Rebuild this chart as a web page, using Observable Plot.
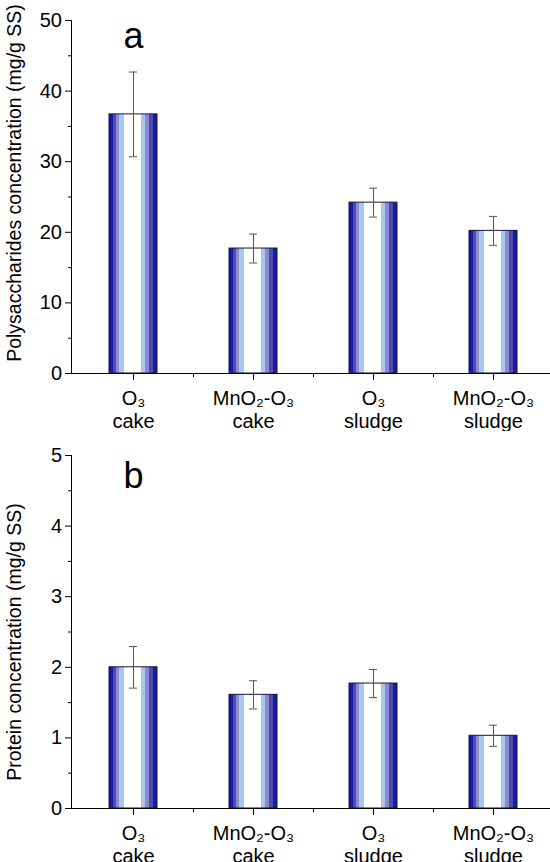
<!DOCTYPE html>
<html><head><meta charset="utf-8">
<script src="https://cdn.jsdelivr.net/npm/d3@7"></script>
<script src="https://cdn.jsdelivr.net/npm/@observablehq/plot@0.6"></script>
<style>
body{margin:0;background:#fff;}
#chart svg{display:block;}
</style></head><body><div id="chart"></div>
<script>
const categories = ["O₃\ncake", "MnO₂-O₃\ncake", "O₃\nsludge", "MnO₂-O₃\nsludge"];
const polyValues = [36.7, 17.7, 24.2, 20.2];
const polyErrors = [6.0, 2.05, 2.05, 2.05];
const proteinValues = [2.00, 1.61, 1.77, 1.03];
const proteinErrors = [0.295, 0.20, 0.20, 0.15];
const polyTicks = [0, 10, 20, 30, 40, 50];
const polyMinorTicks = [5, 15, 25, 35, 45];
const proteinTicks = [0, 1, 2, 3, 4, 5];
const proteinMinorTicks = [0.5, 1.5, 2.5, 3.5, 4.5];
const polyLabel = "Polysaccharides concentration (mg/g SS)";
const proteinLabel = "Protein concentration (mg/g SS)";

const FONT = "'Liberation Sans', Arial, Helvetica, sans-serif";
const bandStops = [
  [0.00, "#1a1aa8"], [0.08, "#1a1aa8"],
  [0.08, "#4b4bb0"], [0.15, "#4b4bb0"],
  [0.15, "#8a8ccc"], [0.21, "#8a8ccc"],
  [0.21, "#a6c8ee"], [0.31, "#a6c8ee"],
  [0.31, "#fffffa"], [0.66, "#fffffa"],
  [0.66, "#a6c8ee"], [0.76, "#a6c8ee"],
  [0.76, "#8a8ccc"], [0.83, "#8a8ccc"],
  [0.83, "#4b4bb0"], [0.91, "#4b4bb0"],
  [0.91, "#1a1aa8"], [1.00, "#1a1aa8"]
];

function panel({values, errors, ticks, minor, label, labelDy, letter, letterY, marginTop, marginBottom, id}) {
  const data = categories.map((c, i) => ({cat: c, v: values[i], lo: values[i] - errors[i], hi: values[i] + errors[i]}));
  const y0 = ticks[0];
  const letterData = [{t: letter, cat: categories[0], y: letterY}];
  const svg = Plot.plot({
    width: 550, height: 431,
    marginLeft: 71, marginRight: 0, marginTop, marginBottom,
    style: {fontFamily: FONT, fontSize: "20px", color: "#000", background: "#fff"},
    x: {domain: categories, range: [73, 553], paddingInner: 0.6, paddingOuter: 0.3, axis: null},
    y: {domain: [ticks[0], ticks[ticks.length - 1]], axis: null},
    marks: [
      Plot.barY(data, {x: "cat", y: "v", fill: `url(#${id})`, stroke: "#14143c", strokeWidth: 1}),
      Plot.ruleX(data, {x: "cat", y1: "lo", y2: "hi", stroke: "#555", strokeWidth: 1}),
      Plot.tickY(data, {x: "cat", y: "lo", stroke: "#555", strokeWidth: 1, insetLeft: 20, insetRight: 20}),
      Plot.tickY(data, {x: "cat", y: "hi", stroke: "#555", strokeWidth: 1, insetLeft: 20, insetRight: 20}),
      Plot.frame({anchor: "left", stroke: "#000"}),
      Plot.ruleY([y0], {stroke: "#000"}),
      Plot.axisY({ticks, tickSize: 6, tickPadding: 3.5, fontSize: 20, tickFormat: d => String(d), label: null}),
      Plot.axisY({ticks: minor, tickSize: 3, tickFormat: () => "", label: null}),
      Plot.axisX({tickSize: 7, tickPadding: 8, lineHeight: 1.15, fontSize: 20, label: null}),
      Plot.ruleX(categories, {x: d => d, dx: 60, y1: y0, y2: y0, insetBottom: -4, stroke: "#000"}),
      Plot.text([label], {frameAnchor: "left", rotate: -90, dx: -57, dy: labelDy, fontSize: 19.5, textAnchor: "middle", lineAnchor: "middle", text: d => d}),
      Plot.text(letterData, {x: "cat", y: "y", text: "t", fontSize: 36, lineAnchor: "middle"})
    ]
  });
  const defs = d3.select(svg).insert("defs", ":first-child");
  const g = defs.append("linearGradient").attr("id", id).attr("x1", "0").attr("x2", "1").attr("y1", "0").attr("y2", "0");
  bandStops.forEach(([o, c]) => g.append("stop").attr("offset", o).attr("stop-color", c));
  return svg;
}

const root = document.getElementById("chart");
root.append(panel({values: polyValues, errors: polyErrors, ticks: polyTicks, minor: polyMinorTicks,
  label: polyLabel, labelDy: -14, letter: "a", letterY: 47.7, marginTop: 20, marginBottom: 58, id: "gradA"}));
root.append(panel({values: proteinValues, errors: proteinErrors, ticks: proteinTicks, minor: proteinMinorTicks,
  label: proteinLabel, labelDy: 10, letter: "b", letterY: 4.7, marginTop: 24, marginBottom: 54, id: "gradB"}));
</script></body></html>
